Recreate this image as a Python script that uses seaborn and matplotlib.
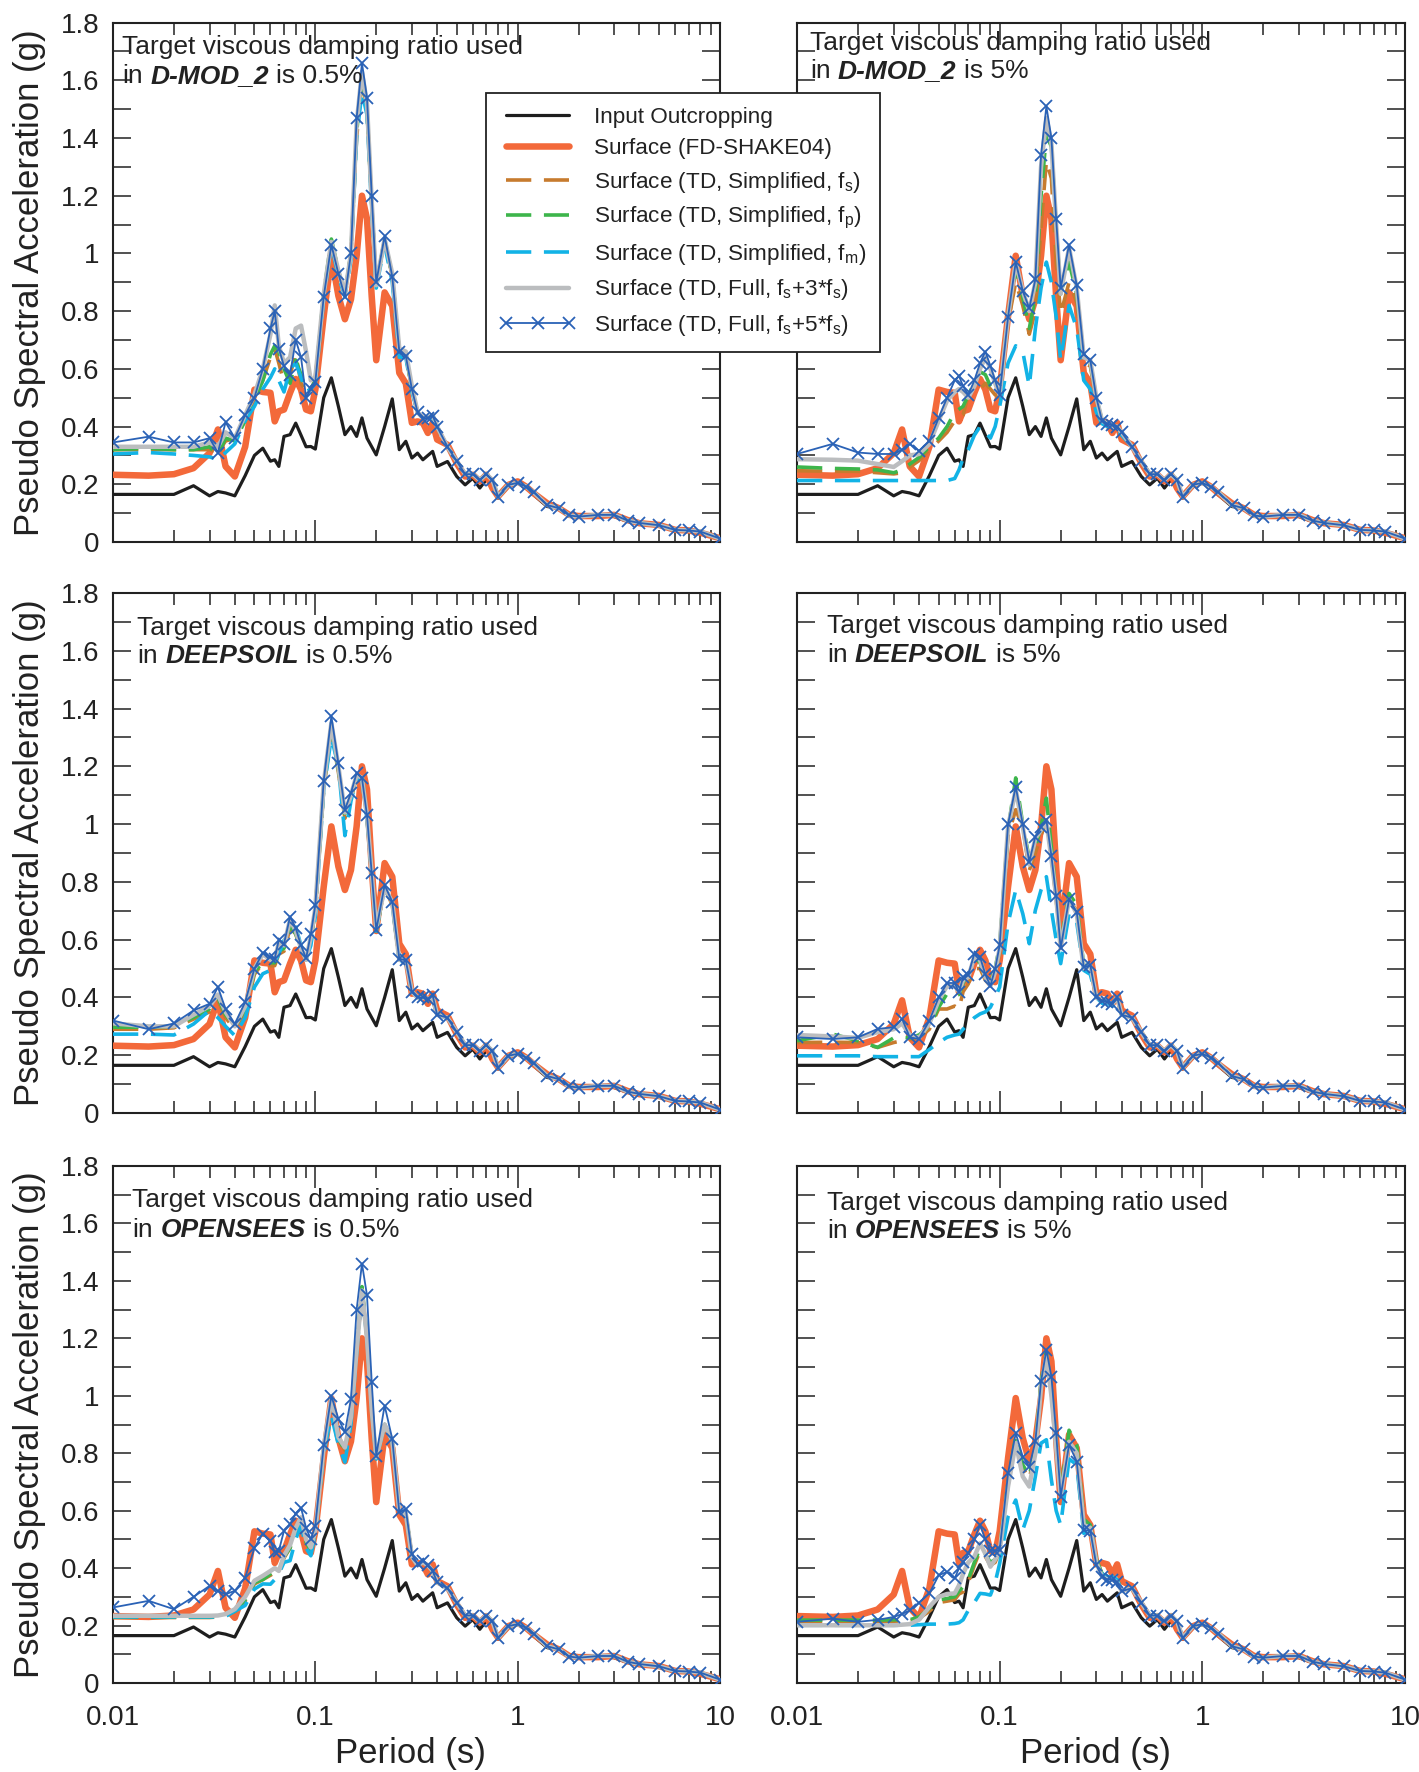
import matplotlib
matplotlib.use("Agg")
import matplotlib.pyplot as plt
import seaborn as sns
import numpy as np
from matplotlib.ticker import MultipleLocator, FuncFormatter, LogLocator, NullFormatter
from matplotlib.lines import Line2D

# ---------------- data ----------------
PERIOD = [0.010, 0.015, 0.020, 0.025, 0.030, 0.033, 0.036, 0.040, 0.045, 0.050,
          0.055, 0.060, 0.063, 0.066, 0.070, 0.075, 0.080, 0.085, 0.090, 0.095,
          0.100, 0.110, 0.120, 0.130, 0.140, 0.150, 0.160, 0.170, 0.180, 0.190,
          0.200, 0.220, 0.240, 0.260, 0.280, 0.300, 0.320, 0.340, 0.360, 0.380,
          0.400, 0.450, 0.500, 0.550, 0.600, 0.650, 0.700, 0.750, 0.800, 0.900,
          1.000, 1.100, 1.200, 1.400, 1.600, 1.800, 2.000, 2.500, 3.000, 3.500,
          4.000, 5.000, 6.000, 7.000, 8.000, 10.00]

INPUT = [0.165, 0.165, 0.165, 0.195, 0.160, 0.175, 0.170, 0.160, 0.230, 0.300,
         0.325, 0.280, 0.285, 0.262, 0.366, 0.372, 0.412, 0.370, 0.330, 0.331,
         0.322, 0.500, 0.569, 0.470, 0.372, 0.400, 0.366, 0.430, 0.360, 0.330,
         0.302, 0.400, 0.496, 0.320, 0.349, 0.291, 0.308, 0.285, 0.300, 0.314,
         0.262, 0.279, 0.227, 0.198, 0.221, 0.187, 0.216, 0.204, 0.152, 0.192,
         0.204, 0.190, 0.163, 0.123, 0.117, 0.090, 0.090, 0.094, 0.088, 0.071,
         0.065, 0.059, 0.045, 0.040, 0.036, 0.013]

FD_SHAKE04 = [0.233, 0.230, 0.235, 0.256, 0.308, 0.390, 0.262, 0.227, 0.330, 0.528,
              0.520, 0.517, 0.418, 0.453, 0.459, 0.517, 0.565, 0.528, 0.459, 0.453,
              0.528, 0.783, 0.992, 0.853, 0.772, 0.841, 0.992, 1.200, 1.120, 0.850,
              0.630, 0.865, 0.818, 0.586, 0.550, 0.413, 0.418, 0.413, 0.378, 0.413,
              0.355, 0.337, 0.273, 0.227, 0.233, 0.210, 0.233, 0.187, 0.158, 0.198,
              0.210, 0.192, 0.169, 0.134, 0.117, 0.094, 0.090, 0.090, 0.094, 0.076,
              0.065, 0.059, 0.042, 0.040, 0.032, 0.013]

# long-period part (T >= 0.45 s), shared by all time-domain results
TD_TAIL = [0.330, 0.280, 0.235, 0.235, 0.215, 0.235, 0.215, 0.157, 0.198, 0.205,
           0.192, 0.172, 0.128, 0.117, 0.092, 0.088, 0.094, 0.094, 0.074, 0.066,
           0.058, 0.042, 0.040, 0.036, 0.012]

# ---- D-MOD_2, 0.5 % ----
DMOD05_FS = [0.32, 0.32, 0.32, 0.32, 0.32, 0.31, 0.35, 0.36, 0.43, 0.50,
             0.56, 0.64, 0.67, 0.62, 0.55, 0.58, 0.65, 0.55, 0.52, 0.53,
             0.56, 0.85, 1.04, 0.93, 0.86, 1.00, 1.40, 1.60, 1.50, 1.17,
             0.89, 1.05, 0.92, 0.66, 0.65, 0.53, 0.45, 0.43, 0.43, 0.44, 0.40]
DMOD05_FP = [0.32, 0.325, 0.32, 0.32, 0.33, 0.30, 0.36, 0.35, 0.42, 0.49,
             0.56, 0.65, 0.68, 0.66, 0.60, 0.55, 0.63, 0.58, 0.52, 0.53,
             0.56, 0.86, 1.05, 0.94, 0.86, 1.00, 1.42, 1.60, 1.50, 1.17,
             0.89, 1.05, 0.92, 0.66, 0.65, 0.53, 0.45, 0.43, 0.43, 0.44, 0.40]
DMOD05_FM = [0.305, 0.31, 0.305, 0.30, 0.295, 0.285, 0.31, 0.34, 0.42, 0.47,
             0.53, 0.57, 0.60, 0.56, 0.52, 0.60, 0.62, 0.57, 0.52, 0.53,
             0.55, 0.84, 1.03, 0.92, 0.85, 0.98, 1.40, 1.56, 1.48, 1.15,
             0.88, 1.03, 0.90, 0.64, 0.64, 0.52, 0.45, 0.43, 0.43, 0.43, 0.40]
DMOD05_F3 = [0.33, 0.33, 0.33, 0.33, 0.345, 0.33, 0.38, 0.36, 0.44, 0.51,
             0.60, 0.72, 0.82, 0.68, 0.62, 0.64, 0.74, 0.75, 0.66, 0.56,
             0.57, 0.86, 1.04, 0.94, 0.86, 1.00, 1.45, 1.63, 1.52, 1.18,
             0.89, 1.05, 0.93, 0.67, 0.66, 0.54, 0.45, 0.43, 0.43, 0.44, 0.40]
DMOD05_F5 = [0.345, 0.365, 0.345, 0.345, 0.36, 0.31, 0.415, 0.36, 0.44, 0.50,
             0.60, 0.74, 0.80, 0.67, 0.61, 0.58, 0.70, 0.64, 0.50, 0.53,
             0.555, 0.85, 1.03, 0.93, 0.85, 1.00, 1.47, 1.66, 1.54, 1.20,
             0.90, 1.06, 0.92, 0.66, 0.645, 0.53, 0.45, 0.427, 0.43, 0.438, 0.40]

# ---- D-MOD_2, 5 % ----
DMOD5_FS = [0.247, 0.245, 0.245, 0.24, 0.236, 0.24, 0.26, 0.282, 0.32, 0.35,
            0.38, 0.42, 0.43, 0.44, 0.51, 0.53, 0.53, 0.55, 0.53, 0.51,
            0.50, 0.76, 0.90, 0.82, 0.72, 0.80, 1.09, 1.32, 1.26, 0.97,
            0.79, 0.90, 0.83, 0.62, 0.61, 0.49, 0.42, 0.41, 0.40, 0.40, 0.38]
DMOD5_FP = [0.26, 0.255, 0.253, 0.25, 0.24, 0.25, 0.27, 0.293, 0.33, 0.36,
            0.40, 0.45, 0.46, 0.47, 0.51, 0.55, 0.59, 0.58, 0.54, 0.52,
            0.51, 0.79, 0.95, 0.85, 0.74, 0.85, 1.20, 1.41, 1.37, 1.09,
            0.86, 0.97, 0.86, 0.63, 0.62, 0.50, 0.42, 0.41, 0.40, 0.40, 0.38]
DMOD5_FM = [0.213, 0.213, 0.213, 0.213, 0.213, 0.213, 0.213, 0.213, 0.213, 0.213,
            0.213, 0.22, 0.25, 0.29, 0.32, 0.37, 0.40, 0.38, 0.36, 0.40,
            0.47, 0.62, 0.68, 0.66, 0.54, 0.74, 0.88, 0.97, 0.90, 0.78,
            0.63, 0.82, 0.74, 0.56, 0.53, 0.45, 0.41, 0.40, 0.40, 0.39, 0.37]
DMOD5_F3 = [0.287, 0.285, 0.282, 0.27, 0.26, 0.28, 0.30, 0.305, 0.34, 0.42,
            0.49, 0.52, 0.53, 0.52, 0.50, 0.54, 0.60, 0.64, 0.60, 0.55,
            0.51, 0.78, 0.97, 0.87, 0.80, 0.90, 1.30, 1.47, 1.38, 1.10,
            0.86, 1.02, 0.88, 0.64, 0.63, 0.50, 0.42, 0.41, 0.40, 0.40, 0.38]
DMOD5_F5 = [0.305, 0.34, 0.31, 0.305, 0.305, 0.32, 0.34, 0.316, 0.35, 0.43,
            0.50, 0.56, 0.575, 0.54, 0.51, 0.56, 0.62, 0.66, 0.61, 0.56,
            0.51, 0.78, 0.97, 0.87, 0.81, 0.91, 1.34, 1.51, 1.40, 1.12,
            0.88, 1.03, 0.89, 0.65, 0.63, 0.50, 0.42, 0.41, 0.405, 0.40, 0.38]

# ---- DEEPSOIL, 0.5 % ----
DS05_FS = [0.29, 0.29, 0.295, 0.325, 0.35, 0.39, 0.33, 0.29, 0.35, 0.48,
           0.52, 0.51, 0.51, 0.55, 0.56, 0.64, 0.62, 0.56, 0.53, 0.60,
           0.70, 1.12, 1.32, 1.18, 1.02, 1.09, 1.16, 1.16, 1.02, 0.82,
           0.63, 0.78, 0.72, 0.53, 0.53, 0.42, 0.40, 0.40, 0.395, 0.40, 0.34]
DS05_FP = [0.297, 0.297, 0.30, 0.331, 0.36, 0.40, 0.34, 0.30, 0.36, 0.49,
           0.52, 0.52, 0.52, 0.56, 0.57, 0.65, 0.62, 0.57, 0.53, 0.60,
           0.70, 1.13, 1.33, 1.19, 1.03, 1.09, 1.17, 1.17, 1.03, 0.83,
           0.63, 0.78, 0.73, 0.53, 0.53, 0.42, 0.40, 0.40, 0.395, 0.40, 0.34]
DS05_FM = [0.273, 0.273, 0.27, 0.308, 0.355, 0.33, 0.30, 0.268, 0.33, 0.436,
           0.482, 0.494, 0.52, 0.55, 0.598, 0.62, 0.644, 0.58, 0.53, 0.58,
           0.68, 1.12, 1.30, 1.20, 0.96, 1.08, 1.16, 1.15, 1.02, 0.82,
           0.63, 0.78, 0.72, 0.53, 0.52, 0.42, 0.40, 0.40, 0.39, 0.40, 0.34]
DS05_F3 = [0.31, 0.30, 0.30, 0.34, 0.37, 0.41, 0.35, 0.30, 0.37, 0.50,
           0.55, 0.53, 0.53, 0.59, 0.58, 0.67, 0.63, 0.57, 0.53, 0.61,
           0.71, 1.14, 1.35, 1.20, 1.04, 1.10, 1.17, 1.16, 1.03, 0.83,
           0.64, 0.78, 0.73, 0.53, 0.53, 0.42, 0.40, 0.40, 0.395, 0.40, 0.34]
DS05_F5 = [0.32, 0.29, 0.31, 0.355, 0.378, 0.436, 0.36, 0.308, 0.384, 0.50,
           0.555, 0.54, 0.534, 0.60, 0.586, 0.68, 0.64, 0.58, 0.535, 0.62,
           0.72, 1.15, 1.374, 1.21, 1.05, 1.108, 1.177, 1.16, 1.03, 0.83,
           0.633, 0.789, 0.731, 0.534, 0.528, 0.42, 0.40, 0.40, 0.395, 0.407, 0.34]

# ---- DEEPSOIL, 5 % ----
DS5_FS = [0.244, 0.245, 0.244, 0.227, 0.244, 0.25, 0.255, 0.26, 0.29, 0.36,
          0.36, 0.37, 0.36, 0.42, 0.447, 0.50, 0.50, 0.46, 0.44, 0.48,
          0.55, 0.96, 1.05, 0.99, 0.84, 0.90, 0.96, 1.015, 0.89, 0.74,
          0.57, 0.74, 0.70, 0.50, 0.51, 0.40, 0.39, 0.385, 0.378, 0.40, 0.34]
DS5_FP = [0.25, 0.273, 0.25, 0.227, 0.26, 0.262, 0.26, 0.27, 0.30, 0.366,
          0.413, 0.41, 0.41, 0.45, 0.482, 0.54, 0.52, 0.47, 0.45, 0.50,
          0.58, 0.98, 1.16, 1.00, 0.88, 0.92, 0.99, 1.09, 0.92, 0.75,
          0.586, 0.76, 0.72, 0.51, 0.51, 0.40, 0.39, 0.39, 0.38, 0.40, 0.34]
DS5_FM = [0.198, 0.198, 0.198, 0.195, 0.195, 0.195, 0.195, 0.195, 0.22, 0.244,
          0.262, 0.27, 0.273, 0.29, 0.308, 0.33, 0.343, 0.35, 0.366, 0.40,
          0.436, 0.656, 0.772, 0.69, 0.586, 0.702, 0.772, 0.818, 0.702, 0.60,
          0.517, 0.69, 0.66, 0.494, 0.48, 0.40, 0.38, 0.38, 0.37, 0.39, 0.34]
DS5_F3 = [0.27, 0.265, 0.26, 0.28, 0.29, 0.31, 0.27, 0.26, 0.31, 0.39,
          0.44, 0.44, 0.42, 0.46, 0.47, 0.54, 0.53, 0.47, 0.44, 0.49,
          0.57, 0.99, 1.12, 0.99, 0.86, 0.95, 0.98, 1.01, 0.88, 0.75,
          0.57, 0.74, 0.69, 0.50, 0.51, 0.40, 0.39, 0.385, 0.378, 0.40, 0.34]
DS5_F5 = [0.262, 0.256, 0.262, 0.291, 0.297, 0.326, 0.262, 0.256, 0.32, 0.40,
          0.45, 0.45, 0.418, 0.47, 0.478, 0.552, 0.54, 0.48, 0.44, 0.50,
          0.58, 1.00, 1.13, 1.00, 0.87, 0.957, 0.99, 1.015, 0.89, 0.75,
          0.57, 0.74, 0.696, 0.505, 0.511, 0.40, 0.389, 0.385, 0.378, 0.40, 0.34]

# ---- OPENSEES, 0.5 % ----
OS05_FS = [0.228, 0.228, 0.228, 0.228, 0.228, 0.23, 0.235, 0.248, 0.285, 0.345,
           0.36, 0.375, 0.385, 0.38, 0.435, 0.47, 0.53, 0.565, 0.49, 0.46,
           0.52, 0.81, 0.985, 0.85, 0.81, 0.92, 1.15, 1.37, 1.20, 0.94,
           0.78, 0.90, 0.84, 0.60, 0.59, 0.44, 0.41, 0.42, 0.41, 0.39, 0.35]
OS05_FP = [0.23, 0.23, 0.23, 0.23, 0.23, 0.232, 0.238, 0.25, 0.29, 0.35,
           0.36, 0.38, 0.39, 0.385, 0.44, 0.47, 0.53, 0.57, 0.49, 0.46,
           0.52, 0.81, 0.99, 0.85, 0.81, 0.92, 1.16, 1.38, 1.21, 0.95,
           0.78, 0.90, 0.84, 0.60, 0.59, 0.44, 0.41, 0.42, 0.41, 0.39, 0.35]
OS05_FM = [0.23, 0.23, 0.23, 0.23, 0.23, 0.23, 0.232, 0.25, 0.27, 0.327,
           0.345, 0.344, 0.36, 0.38, 0.42, 0.426, 0.50, 0.55, 0.47, 0.443,
           0.52, 0.80, 0.93, 0.83, 0.769, 0.90, 1.15, 1.36, 1.20, 0.95,
           0.78, 0.90, 0.84, 0.60, 0.59, 0.44, 0.41, 0.42, 0.41, 0.39, 0.35]
OS05_F3 = [0.234, 0.234, 0.234, 0.234, 0.234, 0.235, 0.24, 0.257, 0.30, 0.356,
           0.373, 0.39, 0.40, 0.39, 0.443, 0.48, 0.54, 0.577, 0.50, 0.472,
           0.53, 0.821, 0.995, 0.856, 0.82, 0.926, 1.158, 1.367, 1.20, 0.95,
           0.786, 0.90, 0.844, 0.60, 0.59, 0.44, 0.41, 0.42, 0.41, 0.39, 0.35]
OS05_F5 = [0.263, 0.286, 0.257, 0.30, 0.338, 0.32, 0.309, 0.321, 0.367, 0.47,
           0.52, 0.495, 0.455, 0.46, 0.53, 0.553, 0.59, 0.61, 0.54, 0.50,
           0.548, 0.827, 1.00, 0.92, 0.873, 0.99, 1.30, 1.46, 1.35, 1.048,
           0.792, 0.966, 0.85, 0.594, 0.606, 0.449, 0.414, 0.426, 0.41, 0.39, 0.35]

# ---- OPENSEES, 5 % ----
OS5_FS = [0.214, 0.214, 0.214, 0.214, 0.215, 0.215, 0.215, 0.225, 0.25, 0.28,
          0.285, 0.29, 0.31, 0.317, 0.35, 0.41, 0.46, 0.44, 0.41, 0.42,
          0.46, 0.69, 0.85, 0.75, 0.71, 0.81, 1.04, 1.14, 1.01, 0.83,
          0.65, 0.87, 0.82, 0.56, 0.55, 0.43, 0.38, 0.37, 0.37, 0.36, 0.32]
OS5_FP = [0.219, 0.219, 0.219, 0.219, 0.22, 0.22, 0.22, 0.23, 0.26, 0.29,
          0.294, 0.30, 0.32, 0.335, 0.36, 0.42, 0.47, 0.45, 0.42, 0.43,
          0.47, 0.70, 0.86, 0.76, 0.72, 0.82, 1.05, 1.15, 1.02, 0.84,
          0.66, 0.88, 0.83, 0.57, 0.55, 0.43, 0.38, 0.37, 0.37, 0.36, 0.32]
OS5_FM = [0.201, 0.201, 0.201, 0.201, 0.201, 0.201, 0.201, 0.203, 0.205, 0.205,
          0.205, 0.207, 0.21, 0.22, 0.253, 0.28, 0.312, 0.31, 0.306, 0.35,
          0.416, 0.579, 0.637, 0.533, 0.60, 0.719, 0.835, 0.847, 0.707, 0.60,
          0.55, 0.78, 0.76, 0.521, 0.54, 0.42, 0.38, 0.37, 0.37, 0.36, 0.32]
OS5_F3 = [0.201, 0.201, 0.201, 0.201, 0.201, 0.203, 0.205, 0.22, 0.265, 0.30,
          0.31, 0.312, 0.34, 0.38, 0.42, 0.44, 0.486, 0.45, 0.405, 0.43,
          0.46, 0.684, 0.835, 0.719, 0.684, 0.80, 1.03, 1.137, 1.00, 0.82,
          0.65, 0.84, 0.80, 0.55, 0.54, 0.42, 0.37, 0.36, 0.36, 0.35, 0.32]
OS5_F5 = [0.213, 0.224, 0.213, 0.22, 0.23, 0.24, 0.253, 0.28, 0.312, 0.375,
          0.387, 0.364, 0.40, 0.42, 0.451, 0.50, 0.55, 0.50, 0.46, 0.46,
          0.463, 0.73, 0.87, 0.788, 0.753, 0.841, 1.05, 1.16, 1.067, 0.87,
          0.649, 0.83, 0.771, 0.533, 0.53, 0.41, 0.37, 0.36, 0.36, 0.35, 0.32]

PANEL_CODES = ["D-MOD_2", "D-MOD_2", "DEEPSOIL", "DEEPSOIL", "OPENSEES", "OPENSEES"]
PANEL_DAMPING = ["0.5%", "5%", "0.5%", "5%", "0.5%", "5%"]
PANEL_TD = [
    [DMOD05_FS, DMOD05_FP, DMOD05_FM, DMOD05_F3, DMOD05_F5],
    [DMOD5_FS, DMOD5_FP, DMOD5_FM, DMOD5_F3, DMOD5_F5],
    [DS05_FS, DS05_FP, DS05_FM, DS05_F3, DS05_F5],
    [DS5_FS, DS5_FP, DS5_FM, DS5_F3, DS5_F5],
    [OS05_FS, OS05_FP, OS05_FM, OS05_F3, OS05_F5],
    [OS5_FS, OS5_FP, OS5_FM, OS5_F3, OS5_F5],
]

LABELS = ["Input Outcropping",
          "Surface (FD-SHAKE04)",
          "Surface (TD, Simplified, f$_s$)",
          "Surface (TD, Simplified, f$_p$)",
          "Surface (TD, Simplified, f$_m$)",
          "Surface (TD, Full, f$_s$+3*f$_s$)",
          "Surface (TD, Full, f$_s$+5*f$_s$)"]

# ---------------- style ----------------
sns.set_style("ticks")
plt.rcParams["font.family"] = ["Liberation Sans", "DejaVu Sans"]
plt.rcParams["mathtext.default"] = "regular"

DASH = (0, (7, 3.5))
STYLES = [
    dict(color="#1e1e1e", linewidth=2.3, zorder=3),
    dict(color="#f3693a", linewidth=4.7, zorder=3),
    dict(color="#c77b2e", linewidth=2.6, linestyle=DASH, zorder=4),
    dict(color="#3db54b", linewidth=2.6, linestyle=DASH, zorder=4),
    dict(color="#12b3e6", linewidth=2.6, linestyle=DASH, zorder=4),
    dict(color="#bbbdbf", linewidth=3.2, zorder=4),
    dict(color="#2a62b6", linewidth=1.3, marker="x", markersize=9,
         markeredgewidth=1.3, markeredgecolor="#2a62b6", zorder=5),
]

W, H = 1419, 1772
fig = plt.figure(figsize=(W / 100, H / 100), dpi=100)
fig.patch.set_facecolor("white")

cols = [(113, 720), (797, 1405)]
rows = [(22.6, 542), (593, 1113), (1166, 1683)]

TEXT_POS = [(0.015, 0.9395, 0.8837), (0.021, 0.948, 0.8935),
            (0.040, 0.919, 0.865), (0.049, 0.924, 0.867),
            (0.032, 0.921, 0.863), (0.049, 0.915, 0.860)]

fmt = FuncFormatter(lambda v, p: f"{v:g}")
axes = []
for r, (top, bot) in enumerate(rows):
    for c, (left, right) in enumerate(cols):
        i = r * 2 + c
        ax = fig.add_axes([left / W, 1 - bot / H, (right - left) / W, (bot - top) / H])
        axes.append(ax)
        series = [INPUT, FD_SHAKE04] + [h + TD_TAIL for h in PANEL_TD[i]]
        for y, st in zip(series, STYLES):
            sns.lineplot(x=PERIOD, y=y, ax=ax, estimator=None, sort=False,
                         legend=False, **st)
        ax.set_xscale("log")
        ax.set_xlim(0.01, 10)
        ax.set_ylim(0, 1.8)
        ax.set_xlabel("")
        ax.set_ylabel("")
        ax.xaxis.set_major_locator(LogLocator(base=10, numticks=10))
        ax.xaxis.set_minor_locator(LogLocator(base=10, subs=np.arange(2, 10), numticks=40))
        ax.xaxis.set_major_formatter(fmt)
        ax.xaxis.set_minor_formatter(NullFormatter())
        ax.yaxis.set_major_locator(MultipleLocator(0.2))
        ax.yaxis.set_minor_locator(MultipleLocator(0.1))
        ax.yaxis.set_major_formatter(fmt)
        ax.tick_params(axis="both", which="both", direction="in", top=True,
                       right=True, width=1.1, color="#222222", labelcolor="#222222")
        ax.tick_params(axis="x", which="major", length=16, pad=16, labelsize=20)
        ax.tick_params(axis="x", which="minor", length=8.5)
        ax.tick_params(axis="y", which="both", length=13, pad=10, labelsize=20)
        if r < 2:
            ax.tick_params(labelbottom=False)
        if c == 1:
            ax.tick_params(labelleft=False)
        for sp in ax.spines.values():
            sp.set_linewidth(1.5)
            sp.set_color("#222222")

        # annotation
        tx, ty1, ty2 = TEXT_POS[i]
        ax.text(tx, ty1, "Target viscous damping ratio used", transform=ax.transAxes,
                fontsize=19, va="baseline", ha="left", color="#222222", zorder=7)
        t1 = ax.text(tx, ty2, "in", transform=ax.transAxes, fontsize=19,
                     va="baseline", ha="left", color="#222222", zorder=7)
        t2 = ax.annotate(PANEL_CODES[i], xy=(1, 0), xycoords=t1, xytext=(5.3, 0),
                         textcoords="offset points", fontsize=19, fontweight="bold",
                         fontstyle="italic", va="bottom", ha="left", color="#222222",
                         zorder=7)
        ax.annotate("is " + PANEL_DAMPING[i], xy=(1, 0), xycoords=t2, xytext=(5.3, 0),
                    textcoords="offset points", fontsize=19, va="bottom", ha="left",
                    color="#222222", zorder=7)

        if c == 0:
            fig.text(30 / W, 1 - (top + bot) / 2 / H, "Pseudo Spectral Acceleration (g)",
                     rotation=90, va="center", ha="center", fontsize=25, color="#222222")
        if r == 2:
            fig.text((left + right) / 2 / W - 0.004, 1 - 1753 / H, "Period (s)",
                     va="center", ha="center", fontsize=25, color="#222222")

handles = []
for st in STYLES:
    kw = {k: v for k, v in st.items() if k != "zorder"}
    handles.append(Line2D([], [], **kw))
leg = fig.legend(handles, LABELS, loc="upper left",
                 bbox_to_anchor=(486 / W, 1 - 93 / H), bbox_transform=fig.transFigure,
                 borderaxespad=0, frameon=True, fancybox=False, edgecolor="#222222",
                 framealpha=1, fontsize=16.2, handlelength=3.4, handletextpad=0.8,
                 labelspacing=0.47, borderpad=0.6, numpoints=3)
leg.get_frame().set_linewidth(1.3)
for t in leg.get_texts():
    t.set_color("#222222")

fig.savefig("out.png", dpi=100)
